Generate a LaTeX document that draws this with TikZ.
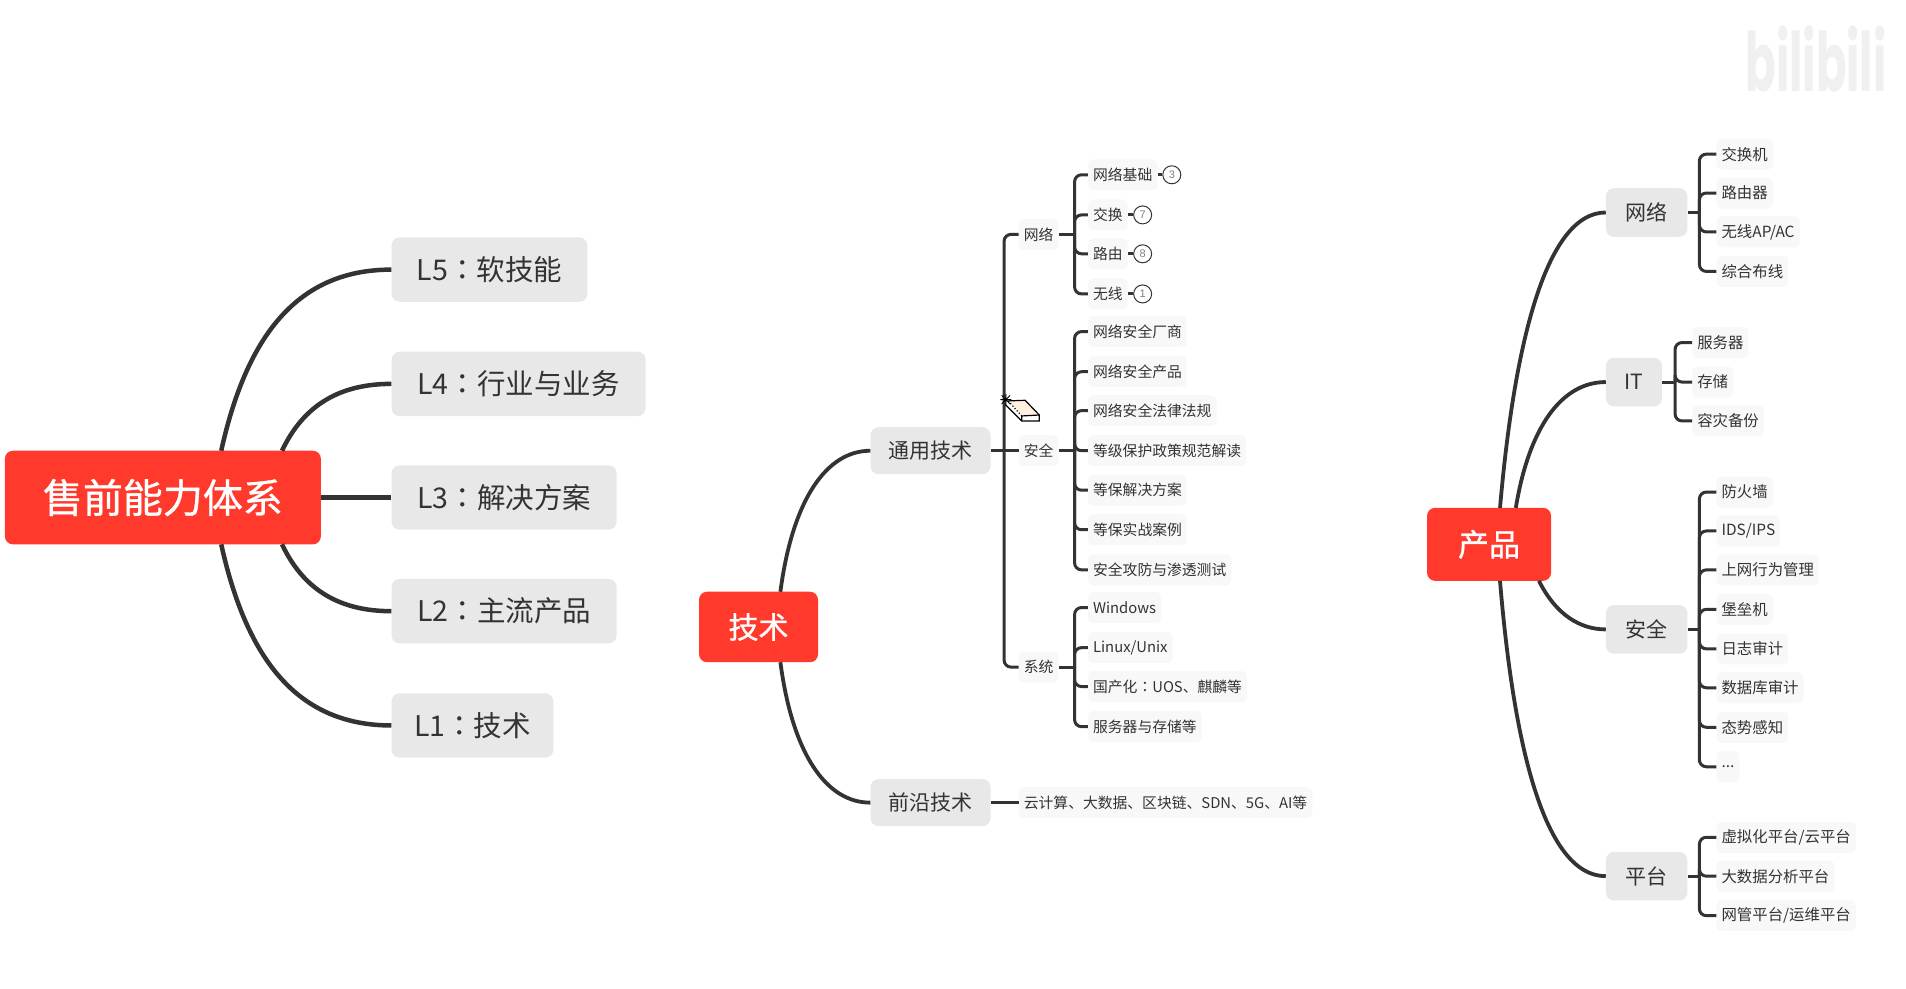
\documentclass[tikz,border=0pt]{standalone}
\usepackage{fontspec}
\setmainfont{Noto Sans CJK SC}
\newfontfamily\tcfont{Noto Sans CJK TC}
\newfontfamily\heavyfont[FakeBold=0.9]{Noto Sans CJK SC}
\newfontfamily\badgefont{Liberation Sans}
\newfontfamily\logofont{Poppins}
\newcommand{\cln}{{\tcfont ：}}
\newcommand{\threedots}{.{}.{}.}
\definecolor{ink}{HTML}{333333}
\definecolor{redbox}{HTML}{FF3A2D}
\definecolor{greybox}{HTML}{E8E8E8}
\definecolor{leafbg}{HTML}{F8F8F8}
\tikzset{
  rootbox/.style={fill=redbox,text=white,rounded corners=8pt,inner sep=0pt},
  midbox/.style={fill=greybox,text=ink,rounded corners=8pt,inner sep=0pt,anchor=west},
  leafbox/.style={fill=leafbg,text=ink,rounded corners=5pt,inner xsep=5pt,inner ysep=0pt,minimum height=31pt,anchor=west,font=\fontsize{14.8}{15}\selectfont},
  pleaf/.style={leafbox,font=\fontsize{15.4}{15}\selectfont},
  badge/.style={circle,draw=ink,line width=1pt,fill=white,text=gray,inner sep=0pt,minimum size=18pt,font=\badgefont\fontsize{11}{11}\selectfont},
  thick1/.style={draw=ink,line width=4.5pt},
  thick2/.style={draw=ink,line width=3.8pt},
  brace/.style={draw=ink,line width=3pt,rounded corners=7pt},
}
\begin{document}
\begin{tikzpicture}[x=1.2156pt,y=-1.2156pt]
\useasboundingbox (0,-0.8) rectangle (1568,812.8);
\fill[white] (0,-0.8) rectangle (1568,812.8);
% watermark
\node[text=black!6,font=\logofont\bfseries\fontsize{82}{82}\selectfont,inner sep=0pt,transform shape,xscale=.55] (logo) at (1494,48) {bilibili};

% ---- left tree
\node[rootbox,minimum width=316pt,minimum height=93.6pt,font=\heavyfont\fontsize{40}{40}\selectfont] (root) at (134,408.5) {售前能力体系};
\foreach \n/\y/\w/\t in {l5/221/195.7/{L5\cln 软技能},l4/315/254/{L4\cln 行业与业务},l3/408.5/225/{L3\cln 解决方案},l2/502/225/{L2\cln 主流产品},l1/596/161.7/{L1\cln 技术}}
  \node[midbox,minimum width=\w pt,minimum height=64.4pt,font=\fontsize{28.5}{28.5}\selectfont] (\n) at (322,\y) {\t};
\coordinate (ra) at (182,370); \coordinate (rb) at (232,370);
\coordinate (rc) at (232,447); \coordinate (rd) at (182,447);
\draw[thick1] (ra) .. controls (203,275) and (245,221) .. (l5.west);
\draw[thick1] (rb) .. controls (250,332) and (280,315) .. (l4.west);
\draw[thick1] (root.east) -- (l3.west);
\draw[thick1] (rc) .. controls (250,485) and (280,502) .. (l2.west);
\draw[thick1] (rd) .. controls (203,542) and (245,596) .. (l1.west);

% ---- technology tree
\node[rootbox,minimum width=119pt,minimum height=70.5pt,font=\heavyfont\fontsize{30}{30}\selectfont] (tech) at (624,515) {技术};
\node[midbox,minimum width=120pt,minimum height=47pt,font=\fontsize{21}{21}\selectfont] (gen) at (716,370) {通用技术};
\node[midbox,minimum width=120pt,minimum height=47pt,font=\fontsize{21}{21}\selectfont] (adv) at (716,659.5) {前沿技术};
\coordinate (ta) at (642,486); \coordinate (tb) at (642,544);
\draw[thick2] (ta) .. controls (652,410) and (680,370) .. (gen.west);
\draw[thick2] (tb) .. controls (652,620) and (680,659.5) .. (adv.west);

\node[leafbox] (net) at (838,192) {网络};
\node[leafbox] (sec) at (838,370) {安全};
\node[leafbox] (sys) at (838,548) {系统};
\node[leafbox] (cloud) at (838,659.5) {云计算、大数据、区块链、SDN、5G、AI等};
\coordinate (sp) at (826,370);
\draw[brace] (gen.east) -- (sec.west);
\draw[brace] (sp) |- (net.west);
\draw[brace] (sp) |- (sys.west);
\draw[brace] (adv.east) -- (cloud.west);

\coordinate (spn) at (884,192);
\draw[brace] (net.east) -- (spn);
\foreach \n/\y/\t in {na/143/网络基础,nb/176/交换,nc/208/路由,nd/241/无线}{
  \node[leafbox] (\n) at (895,\y) {\t};
  \draw[brace] (spn) |- (\n.west);
}
\foreach \n/\x/\y/\v in {ba/964/143/3,bb/940/176/7,bc/940/208/8,bd/940/241/1}
  \node[badge] (\n) at (\x,\y) {\v};
\draw[brace] (na.east) -- (ba.west);
\draw[brace] (nb.east) -- (bb.west);
\draw[brace] (nc.east) -- (bc.west);
\draw[brace] (nd.east) -- (bd.west);

\coordinate (sps) at (884,370);
\draw[brace] (sec.east) -- (sps);
\foreach \n/\y/\t in {sa/272/网络安全厂商,sb/305/网络安全产品,sc/337/网络安全法律法规,sd/370/等级保护政策规范解读,se/402.5/等保解决方案,sf/435/等保实战案例,sg/468/安全攻防与渗透测试}{
  \node[leafbox] (\n) at (895,\y) {\t};
  \draw[brace] (sps) |- (\n.west);
}
\coordinate (spy) at (884,548);
\draw[brace] (sys.east) -- (spy);
\foreach \n/\y/\t in {ya/499/Windows,yb/532/{Linux/Unix},yc/564/{国产化\cln UOS、麒麟等},yd/597/服务器与存储等}{
  \node[leafbox] (\n) at (895,\y) {\t};
  \draw[brace] (spy) |- (\n.west);
}

% ---- cursor
\fill[fill=white] (829.5,329) -- (843.3,328.5) -- (855,340.6) -- (855,345.5) -- (840.5,345.5) -- (826.8,331.8) -- cycle;
\fill[fill=orange!12] (829.5,329) -- (843.3,328.5) -- (855,340.6) -- (840.5,341.4) -- cycle;
\draw[black,line width=1.2pt,line join=miter] (829.5,329) -- (843.3,328.5) -- (855,340.6) -- (855,345.5) -- (840.5,345.5) -- (826.8,331.8);
\draw[black,line width=1.2pt] (840.5,341.4) -- (855,340.6) (840.5,341.4) -- (840.5,345.5);
\draw[black,line width=1.2pt,dotted] (829.5,329) -- (840.5,341.4);
\draw[black,line width=.9pt] (823,328) -- (832,328) (827.5,323.5) -- (827.5,332.5) (824,324.5) -- (831,331.5) (824,331.5) -- (831,324.5);

% ---- product tree
\node[rootbox,minimum width=124pt,minimum height=73pt,font=\heavyfont\fontsize{31}{31}\selectfont] (prod) at (1225,447) {产品};
\foreach \n/\y/\w/\t in {pn/174/81.4/网络,pi/313.5/56/IT,ps/517/81.4/安全,pp/720/81.4/平台}
  \node[midbox,minimum width=\w pt,minimum height=48.6pt,font=\fontsize{21}{21}\selectfont] (\n) at (1321,\y) {\t};
\coordinate (pa) at (1234,417); \coordinate (pb) at (1247,417);
\coordinate (pc) at (1266,477); \coordinate (pd) at (1234,477);
\draw[thick2] (pa) .. controls (1245,290) and (1270,174) .. (pn.west);
\draw[thick2] (pb) .. controls (1258,350) and (1285,313.5) .. (pi.west);
\draw[thick2] (pc) .. controls (1280,505) and (1300,517) .. (ps.west);
\draw[thick2] (pd) .. controls (1245,610) and (1270,720) .. (pp.west);

\coordinate (qn) at (1398,174);
\draw[brace] (pn.east) -- (qn);
\foreach \n/\y/\t in {qa/126/交换机,qb/158/路由器,qc/190/{无线AP/AC},qd/222.5/综合布线}{
  \node[pleaf] (\n) at (1412,\y) {\t};
  \draw[brace] (qn) |- (\n.west);
}
\coordinate (qi) at (1378,313.5);
\draw[brace] (pi.east) -- (qi);
\foreach \n/\y/\t in {ra1/281/服务器,ra2/313.5/存储,ra3/345.5/容灾备份}{
  \node[pleaf] (\n) at (1392,\y) {\t};
  \draw[brace] (qi) |- (\n.west);
}
\coordinate (qs) at (1398,517);
\draw[brace] (ps.east) -- (qs);
\foreach \n/\y/\t in {ua/404/防火墙,ub/436/{IDS/IPS},uc/468/上网行为管理,ud/500.5/堡垒机,ue/533/日志审计,uf/565/数据库审计,ug/597.5/态势感知,uh/630/\threedots}{
  \node[pleaf] (\n) at (1412,\y) {\t};
  \draw[brace] (qs) |- (\n.west);
}
\coordinate (qp) at (1398,720);
\draw[brace] (pp.east) -- (qp);
\foreach \n/\y/\t in {va/688/{虚拟化平台/云平台},vb/720/大数据分析平台,vc/752.5/{网管平台/运维平台}}{
  \node[pleaf] (\n) at (1412,\y) {\t};
  \draw[brace] (qp) |- (\n.west);
}
\end{tikzpicture}
\end{document}
